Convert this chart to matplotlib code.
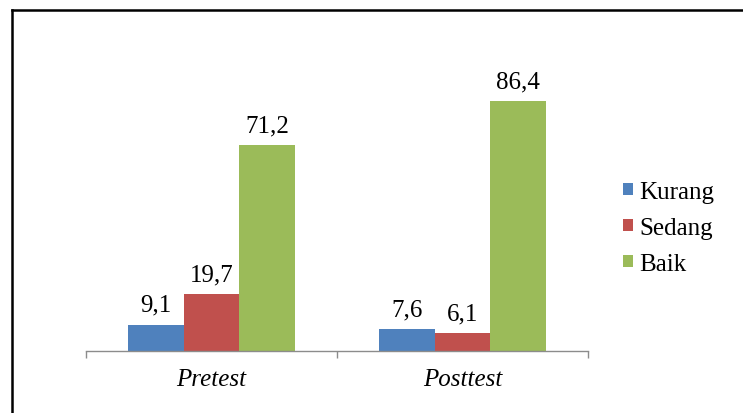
import matplotlib
matplotlib.use("Agg")
import matplotlib.pyplot as plt
from matplotlib.lines import Line2D
import numpy as np

categories = ["Pretest", "Posttest"]
series_names = ["Kurang", "Sedang", "Baik"]
kurang = [9.1, 7.6]
sedang = [19.7, 6.1]
baik = [71.2, 86.4]
colors = ["#4F81BD", "#C0504D", "#9BBB59"]

plt.rcParams['font.family'] = ['Liberation Serif', 'DejaVu Serif']

W, H = 743, 414
fig = plt.figure(figsize=(W / 100, H / 100), dpi=100)
ax = fig.add_axes([86 / W, (H - 352) / H, (588 - 86) / W, 289.3 / H])

x = np.arange(len(categories))
bw = 0.2215
values = [kurang, sedang, baik]
handles = []
for i, (name, vals, c) in enumerate(zip(series_names, values, colors)):
    pos = x + (i - 1) * bw
    b = ax.bar(pos, vals, width=bw, color=c, label=name, linewidth=0)
    handles.append(b)
    for p, v in zip(pos, vals):
        ax.annotate(f"{v:.1f}".replace(".", ","), (p, v), xytext=(0, 6.5),
                    textcoords="offset points", ha="center", va="bottom",
                    fontsize=18)

ax.set_xlim(-0.5, 1.5)
ax.set_ylim(0, 100)
for s in ["top", "right", "left"]:
    ax.spines[s].set_visible(False)
ax.spines["bottom"].set_color("#8C8C8C")
ax.spines["bottom"].set_linewidth(1.0)
ax.set_yticks([])
ax.set_xticks([-0.5, 0.5, 1.5])
ax.set_xticklabels([])
ax.tick_params(axis="x", which="major", length=5, color="#8C8C8C", width=1.0, direction="out")
ax.set_xticks(x, minor=True)
ax.set_xticklabels(categories, minor=True, fontsize=18, style="italic")
ax.tick_params(axis="x", which="minor", length=0, pad=12)

leg = fig.legend(handles=handles, labels=series_names, loc="center left",
                 bbox_to_anchor=(600 / W, 1 - 229 / H), frameon=False,
                 fontsize=18, handlelength=0.4, handleheight=0.4,
                 handletextpad=0.28, labelspacing=0.56)

# figure border (top and left visible)
fig.add_artist(Line2D([12 / W, 1.0], [1 - 11 / H, 1 - 11 / H], transform=fig.transFigure,
                      color="black", linewidth=1.8))
fig.add_artist(Line2D([12 / W, 12 / W], [0.0, 1 - 11 / H], transform=fig.transFigure,
                      color="black", linewidth=1.8))

fig.savefig("out.png", dpi=100)
